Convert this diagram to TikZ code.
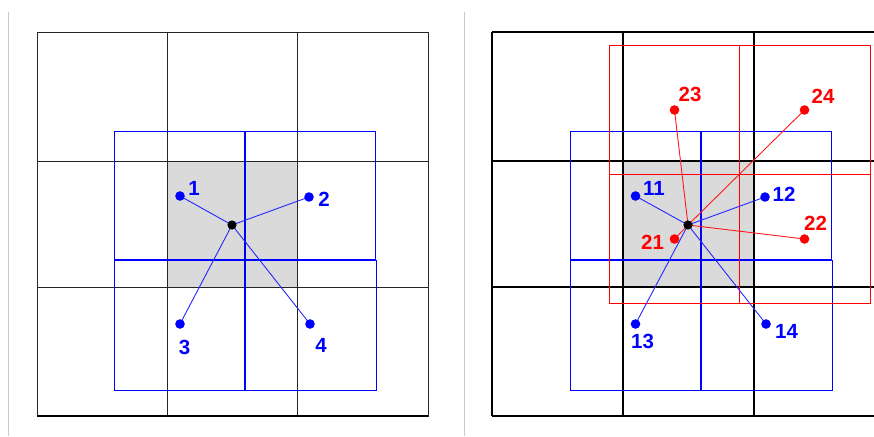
\documentclass[tikz,border=0pt]{standalone}
\usepackage{fontspec}
\setmainfont{Liberation Sans}
\definecolor{pblue}{RGB}{0,0,255}
\definecolor{pred}{RGB}{255,0,0}
\definecolor{cellgray}{RGB}{218,218,218}
\definecolor{sepgray}{RGB}{200,200,200}
\tikzset{
  gridthin/.style={black!85, line width=0.9pt},
  gridthick/.style={black, line width=2pt},
  bluebox/.style={pblue, line width=1pt},
  redbox/.style={pred, line width=0.9pt},
  blink/.style={pblue!85, line width=0.9pt},
  rlink/.style={pred!90, line width=0.9pt},
  bdot/.style={fill=pblue, draw=none},
  rdot/.style={fill=pred, draw=none},
  cdot/.style={fill=black, draw=none},
  blab/.style={text=pblue, inner sep=0pt, font=\fontsize{20.5}{20.5}\selectfont\bfseries},
  rlab/.style={text=pred, inner sep=0pt, font=\fontsize{20.5}{20.5}\selectfont\bfseries},
}
\begin{document}
\begin{tikzpicture}[x=1pt,y=-1pt]
\useasboundingbox (0,0) rectangle (874,436);
% separators
\draw[sepgray, line width=1pt] (8.5,12) -- (8.5,436);
\draw[sepgray, line width=1pt] (464.5,12) -- (464.5,436);

% ===== LEFT PANEL =====
\fill[cellgray] (167,161) rectangle (297,287);
\draw[gridthin] (37,32) rectangle (428,416);
\draw[gridthin] (167,32) -- (167,416);
\draw[gridthin] (297,32) -- (297,416);
\draw[gridthin] (37,161) -- (428,161);
\draw[gridthin] (37,287) -- (428,287);
\draw[gridthick] (37,416) -- (428,416);
% blue boxes
\draw[bluebox] (114,131) rectangle (245,260);
\draw[bluebox] (245,131) rectangle (375,260);
\draw[bluebox] (114,260) rectangle (245,390);
\draw[bluebox] (245,260) rectangle (376,390);
\draw[pblue, line width=2pt] (245,131) -- (245,390);
\draw[pblue, line width=2pt] (114,260) -- (375,260);
% points
\coordinate (c) at (232,225);
\coordinate (p1) at (180,196);
\coordinate (p2) at (309,197);
\coordinate (p3) at (180,324);
\coordinate (p4) at (310,324);
\foreach \p in {p1,p2,p3,p4} \draw[blink] (\p) -- (c);
\foreach \p in {p1,p2,p3,p4} \fill[bdot] (\p) circle (4.8);
\fill[cdot] (c) circle (4.6);
\node[blab] (l1) at (194,188.5) {1};
\node[blab] (l2) at (324,199) {2};
\node[blab] (l3) at (184.5,347) {3};
\node[blab] (l4) at (321,345) {4};

% ===== RIGHT PANEL =====
\fill[cellgray] (623,161) rectangle (754,287);
\draw[gridthick] (492,32) -- (874,32);
\draw[gridthick] (492,416) -- (874,416);
\draw[gridthick] (492,32) -- (492,416);
\draw[gridthick] (623,32) -- (623,416);
\draw[gridthick] (754,32) -- (754,416);
\draw[gridthick] (492,161) -- (874,161);
\draw[gridthick] (492,287) -- (874,287);
% blue boxes
\draw[bluebox] (570,131) rectangle (700.5,260);
\draw[bluebox] (700.5,131) rectangle (831.5,260);
\draw[bluebox] (570,260) rectangle (700.5,390);
\draw[bluebox] (700.5,260) rectangle (832,390);
\draw[pblue, line width=2pt] (700.5,131) -- (700.5,390);
\draw[pblue, line width=2pt] (570,260) -- (831.5,260);
% red boxes
\draw[redbox] (609,45) rectangle (739.5,174);
\draw[redbox] (739.5,45) rectangle (870,174);
\draw[redbox] (609,174) rectangle (739.5,303);
\draw[redbox] (739.5,174) rectangle (870,303);
% points
\coordinate (cr) at (688,225);
\coordinate (q11) at (635.5,196);
\coordinate (q12) at (765,197);
\coordinate (q13) at (635.5,324);
\coordinate (q14) at (766,324);
\coordinate (q21) at (674.5,239);
\coordinate (q22) at (804.5,239);
\coordinate (q23) at (674.5,110);
\coordinate (q24) at (804.5,110);
\foreach \p in {q11,q12,q13,q14} \draw[blink] (\p) -- (cr);
\foreach \p in {q21,q22,q23,q24} \draw[rlink] (\p) -- (cr);
\foreach \p in {q11,q12,q13,q14} \fill[bdot] (\p) circle (4.8);
\foreach \p in {q21,q22,q23,q24} \fill[rdot] (\p) circle (4.8);
\fill[cdot] (cr) circle (4.6);
\node[blab] (l11) at (654,188.5) {11};
\node[blab] (l12) at (784,194.5) {12};
\node[blab] (l13) at (642.5,341.5) {13};
\node[blab] (l14) at (786.5,331.5) {14};
\node[rlab] (l21) at (652.5,242.5) {21};
\node[rlab] (l22) at (815.5,223.5) {22};
\node[rlab] (l23) at (690,94.5) {23};
\node[rlab] (l24) at (823,96.5) {24};
\end{tikzpicture}
\end{document}
